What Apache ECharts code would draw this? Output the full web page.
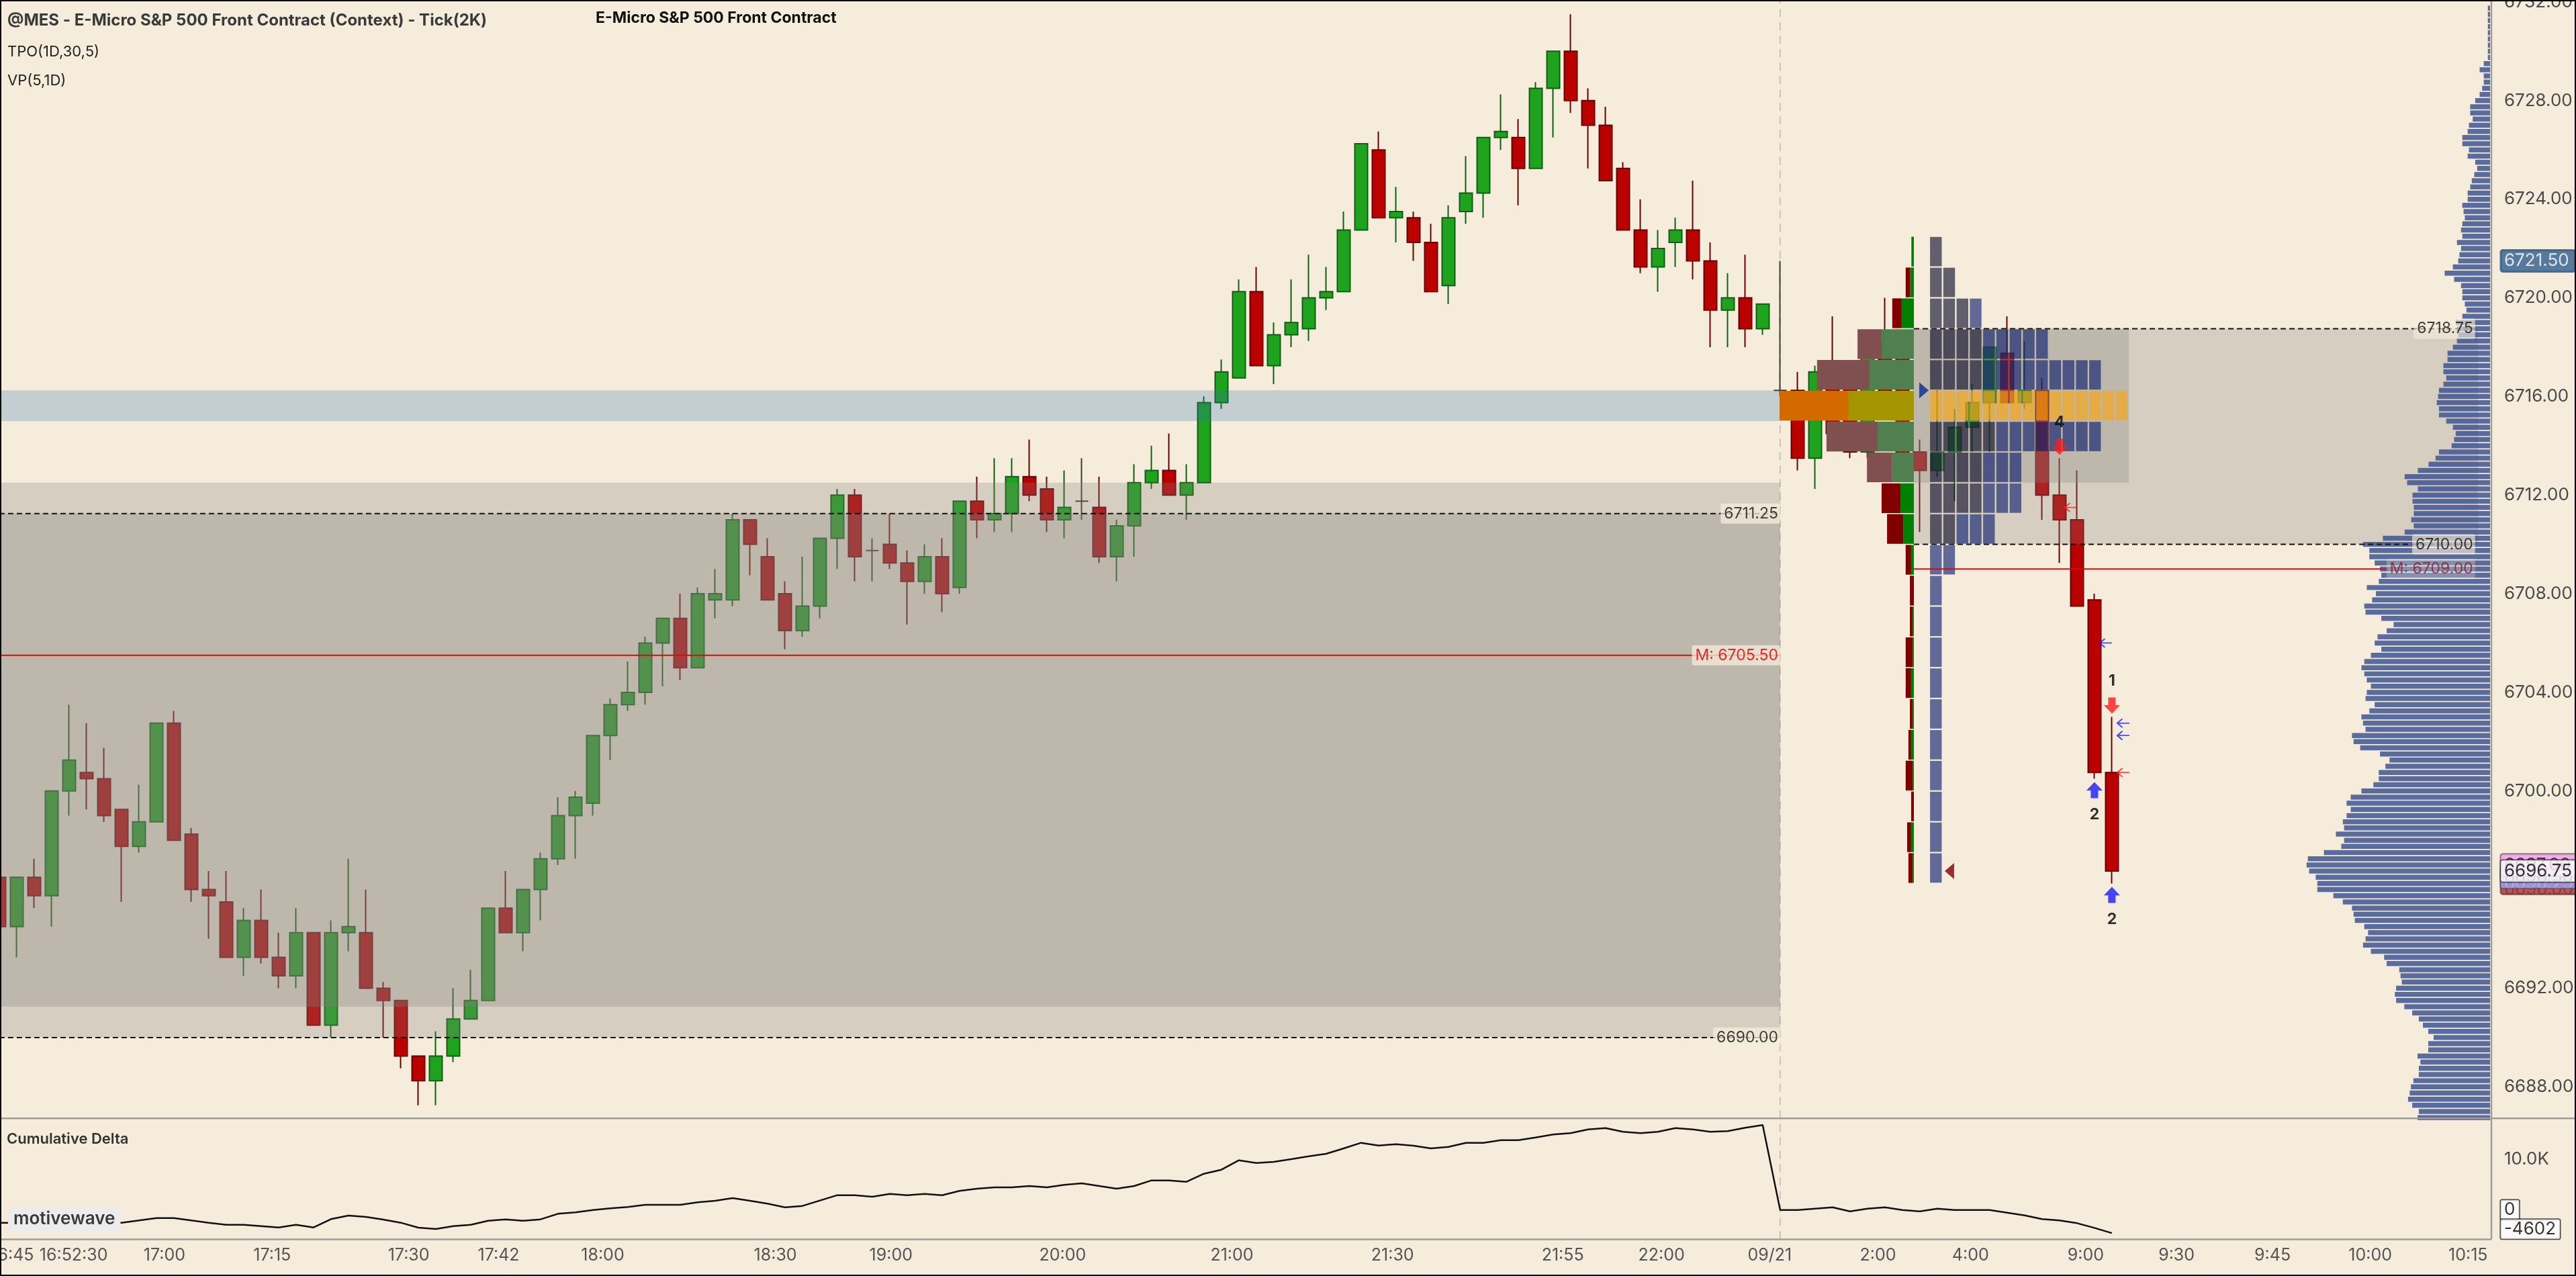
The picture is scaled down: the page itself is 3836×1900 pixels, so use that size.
<!DOCTYPE html>
<html>
<head>
<meta charset="utf-8">
<script src="https://cdn.jsdelivr.net/npm/echarts@6/dist/echarts.min.js"></script>
<style>
html,body{margin:0;padding:0;background:#f5ecdb;overflow:hidden;}
#chart{width:3836px;height:1900px;}
</style>
</head>
<body>
<div id="chart"></div>
<script>
// ---------------- DATA ----------------
// Tick(2K) bars, index 0..121
const open = [
6696.5,6694.5,6696.5,6695.75,6700.0,6700.75,6700.5,6699.25,6697.75,6698.75,
6702.75,6698.25,6696.0,6695.5,6693.25,6694.75,6693.25,6692.5,6694.25,6690.5,
6694.25,6694.25,6692.0,6691.5,6689.25,6688.25,6689.25,6690.75,6691.5,6695.25,
6694.25,6696.0,6697.25,6699.0,6699.5,6702.25,6703.5,6704.0,6706.0,6707.0,
6705.0,6707.75,6707.75,6711.0,6709.5,6708.0,6706.5,6707.5,6710.25,6712.0,
6709.75,6710.0,6709.25,6708.5,6709.5,6708.25,6711.75,6711.0,6711.25,6712.75,
6712.25,6711.0,6711.75,6711.5,6709.5,6710.75,6712.5,6713.0,6712.0,6712.5,
6715.75,6716.75,6720.25,6717.25,6718.5,6718.75,6720.0,6720.25,6722.75,6726.0,
6723.25,6723.25,6722.25,6720.5,6723.5,6724.25,6726.5,6726.5,6725.25,6728.5,
6730.0,6728.0,6727.0,6725.25,6722.75,6721.25,6722.25,6722.75,6721.5,6719.5,
6720.0,6718.75,6716.25,6716.25,6713.5,6717.25,6716.5,6713.75,6718.25,6718.0,
6713.75,6713.0,6713.75,6714.75,6715.75,6717.75,6715.75,6716.25,6712.0,6711.0,
6707.75,6700.75
];
const high = [
6696.75,6696.5,6697.25,6700.0,6703.5,6702.75,6701.75,6699.25,6700.25,6702.75,
6703.25,6698.5,6696.75,6696.75,6695.25,6696.0,6694.25,6695.25,6694.25,6694.75,
6697.25,6696.0,6692.25,6691.5,6689.25,6690.25,6692.0,6692.75,6695.25,6696.75,
6696.0,6697.5,6699.75,6700.0,6702.25,6703.75,6705.25,6706.25,6707.0,6708.0,
6708.25,6709.0,6711.25,6711.0,6710.25,6708.5,6709.5,6710.25,6712.25,6712.25,
6710.25,6711.25,6709.75,6710.0,6710.25,6711.75,6712.75,6713.5,6713.5,6714.25,
6712.75,6713.0,6713.5,6712.75,6711.0,6713.25,6714.0,6714.5,6713.25,6716.0,
6717.5,6720.75,6721.25,6719.0,6720.75,6721.75,6721.25,6723.5,6726.25,6726.75,
6724.5,6723.5,6723.0,6723.75,6725.75,6726.5,6728.25,6727.25,6728.75,6730.0,
6731.5,6728.5,6727.75,6725.5,6724.0,6722.75,6723.25,6724.75,6722.25,6721.0,
6721.75,6719.75,6721.5,6717.0,6717.25,6719.25,6717.0,6718.25,6720.0,6718.25,
6714.25,6716.25,6715.5,6716.5,6718.0,6719.25,6718.25,6716.75,6713.5,6713.0,
6708.0,6703.0
];
const low = [
6694.0,6693.25,6695.25,6694.5,6699.0,6699.25,6698.75,6695.5,6697.5,6698.75,
6698.0,6695.5,6694.0,6693.25,6692.5,6693.0,6692.0,6692.0,6690.5,6690.0,
6693.5,6692.0,6690.0,6688.75,6687.25,6687.25,6689.0,6690.75,6691.5,6694.25,
6693.5,6694.75,6697.0,6697.25,6699.0,6701.25,6703.25,6703.5,6704.25,6704.5,
6705.0,6707.0,6707.5,6708.75,6707.75,6705.75,6706.25,6707.0,6709.0,6708.5,
6708.5,6709.0,6706.75,6708.0,6707.25,6708.0,6710.25,6710.5,6710.5,6711.75,
6710.5,6710.25,6711.0,6709.25,6708.5,6709.5,6712.25,6712.0,6711.0,6712.5,
6715.5,6716.75,6717.25,6716.5,6718.0,6718.25,6719.5,6720.25,6722.75,6723.25,
6722.25,6721.5,6720.25,6719.75,6723.0,6723.25,6726.0,6723.75,6725.25,6726.5,
6727.5,6725.25,6724.75,6722.75,6721.0,6720.25,6721.25,6720.75,6718.0,6718.0,
6718.0,6718.5,6716.0,6713.0,6712.25,6714.0,6713.5,6713.5,6715.5,6713.0,
6710.5,6712.75,6711.75,6713.75,6713.75,6715.75,6715.5,6711.0,6709.25,6707.5,
6700.5,6696.25
];
const close = [
6694.5,6696.5,6695.75,6700.0,6701.25,6700.5,6699.0,6697.75,6698.75,6702.75,
6698.0,6696.0,6695.75,6693.25,6694.75,6693.25,6692.5,6694.25,6690.5,6694.25,
6694.5,6692.0,6691.5,6689.25,6688.25,6689.25,6690.75,6691.5,6695.25,6694.25,
6696.0,6697.25,6699.0,6699.75,6702.25,6703.5,6704.0,6706.0,6707.0,6705.0,
6708.0,6708.0,6711.0,6710.0,6707.75,6706.5,6707.5,6710.25,6712.0,6709.5,
6709.75,6709.25,6708.5,6709.5,6708.0,6711.75,6711.0,6711.25,6712.75,6712.0,
6711.0,6711.5,6711.75,6709.5,6710.75,6712.5,6713.0,6712.0,6712.5,6715.75,
6717.0,6720.25,6717.25,6718.5,6719.0,6720.0,6720.25,6722.75,6726.25,6723.25,
6723.5,6722.25,6720.25,6723.25,6724.25,6726.5,6726.75,6725.25,6728.5,6730.0,
6728.0,6727.0,6724.75,6722.75,6721.25,6722.0,6722.75,6721.5,6719.5,6720.0,
6718.75,6719.75,6716.25,6713.5,6717.0,6714.5,6713.75,6718.0,6716.0,6713.5,
6713.0,6713.75,6714.75,6715.75,6718.0,6715.75,6716.25,6712.0,6711.0,6707.5,
6700.75,6696.75
];
// Cumulative delta per bar
const cumDelta = [
-2552,-2600,-2500,-2350,-2450,-2550,-2464,-2552,-2110,-1625,
-1625,-2110,-2552,-2949,-2949,-3214,-3479,-2949,-3479,-1845,
-1139,-1404,-1934,-2552,-3523,-3788,-3214,-2949,-2155,-1890,
-2155,-1890,-786,-521,-35,274,539,980,980,980,
1466,1775,2305,1775,1201,494,759,1819,2878,2878,
2570,3143,2878,3143,2878,3718,4159,4424,4424,4689,
4424,4910,5219,4689,4159,4689,5792,5792,5527,7117,
7911,9766,9236,9457,9987,10560,11046,12106,13209,12680,
12945,12636,12106,12415,13209,13209,13739,13739,14269,14844,
15109,15859,16123,15374,15109,15374,16123,15859,15374,15506,
16168,16698,-35,-35,230,494,-300,230,494,-35,
-300,230,-35,-35,-35,-565,-1095,-1845,-2110,-2640,
-3567,-4602
];
// Time axis labels and the bar position they sit at
const timeLabels = ['16:45','16:52:30','17:00','17:15','17:30','17:42','18:00','18:30','19:00','20:00','21:00','21:30','21:55','22:00','09/21','2:00','4:00','9:00','9:30','9:45','10:00','10:15'];
const timeLabelBars = [0.75,4.26,9.46,15.63,23.45,28.6,34.56,44.45,51.07,60.9,70.6,79.8,89.55,95.2,101.4,107.6,112.9,119.5,124.7,130.2,135.8,141.4];
const priceTicks = [6688,6692,6696,6700,6704,6708,6712,6716,6720,6724,6728,6732];
const deltaTicks = [10000];

// VP(5,1D) volume per 0.25 level, from top price downwards
const vpTopPrice = 6731.75;
const vpVolume = [
7,7,7,7,7,7,7,7,7,
20,33,20,20,25,33,47,63,63,55,
67,71,88,88,67,71,47,41,50,58,
63,71,71,88,84,80,88,92,88,105,
92,97,101,118,144,114,92,88,88,80,
75,88,109,105,101,105,118,135,135,148,
148,139,148,162,165,169,162,162,139,118,
109,114,122,162,173,195,229,271,263,229,
246,246,242,242,250,242,271,340,403,383,
383,366,349,345,353,391,362,374,399,395,
345,306,328,357,366,345,378,399,408,399,
391,378,391,395,366,383,408,403,395,438,
433,412,349,319,332,353,353,370,408,442,
455,442,455,467,463,489,463,472,527,578,
582,574,553,548,548,497,467,438,433,429,
399,387,395,403,378,336,328,288,284,280,
298,302,298,272,247,226,213,196,179,196,
196,230,221,226,226,243,251,255,260,247,
226,230
];

// Current session profile rows (1.25 pt each), row low prices
const profileRowLow = [6721.25,6720,6718.75,6717.5,6716.25,6715,6713.75,6712.5,6711.25,6710,6708.75,6707.5,6706.25,6705,6703.75,6702.5,6701.25,6700,6698.75,6697.5,6696.25];
const sessionSellVol = [0,18,38,97,211,276,206,102,76,65,22,16,11,28,22,11,11,28,11,16,17];
const sessionBuyVol  = [10,15,49,130,179,265,146,87,54,43,11,0,5,5,11,5,11,5,0,11,5];
const tpoCount = [1,2,4,9,13,15,13,7,7,5,2,1,1,1,1,1,1,1,1,1,1];
const tpoEarly = [1,2,3,4,4,4,5,4,4,2,0,0,0,0,0,0,0,0,0,0,0];
const pocRowLow = 6715;
const tpoOpenPrice = 6716.25;
const tpoLastPrice = 6696.75;

// Value areas / reference levels
const priorOuterArea = [6690.00, 6712.50];
const priorInnerArea = [6691.25, 6711.25];
const priorLevels = [6711.25, 6690.00];
const priorMid = 6705.50;
const pocBand = [6715.00, 6716.25];
const todayOuterArea = [6710.00, 6718.75];
const todayInnerArea = [6712.50, 6718.75];
const todayLevels = [6718.75, 6710.00];
const todayMid = 6709.00;

// Signals
const sellSignalBars = [118, 121];
const sellSignalText = ['4', '1'];
const buySignalBars = [120, 121];
const buySignalText = ['2', '2'];
const redTickMarks = [[118, 6711.5], [121, 6700.75]];
const blueTickMarks = [[120, 6706.0], [121, 6702.75], [121, 6702.25]];

// Axis value flags
const lastPrice = 6696.75;
const sessionHighFlag = 6721.50;
const stackedFlags = [6696.25, 6696.50, 6697.00];
const lastDelta = -4602;

// ---------------- LAYOUT ----------------
const FONT = 'Inter, Roboto, "DejaVu Sans", sans-serif';
const BG = '#f5ecdb';
const NCAT = 143;
const PLOT_LEFT = -14.1, PLOT_W = 3718;
const PRICE_TOP = 0, PRICE_H = 1665.3;
const DELTA_TOP = 1665.3, DELTA_H = 180.3;
const PMIN = 6686.72, PMAX = 6732.08;
const DMIN = -5854, DMAX = 18026;
const SESSION_BREAK = 102;
const TODAY_X0 = 109.66, TODAY_X1 = 141.98, TODAY_INNER_X1 = 121.97, LABEL_X = 141.8;
const ROW = 1.25;

const cats = Array.from({length: NCAT}, (_, i) => String(i));
const ohlc = open.map((o, i) => [o, close[i], low[i], high[i]]);

const areaDark = 'rgba(134,130,126,0.31)';
const areaLight = 'rgba(134,130,126,0.27)';
const zones = [
  {x0: -0.5, x1: SESSION_BREAK, r: priorOuterArea, fill: areaLight},
  {x0: -0.5, x1: SESSION_BREAK, r: priorInnerArea, fill: areaDark},
  {x0: -0.5, x1: SESSION_BREAK, r: pocBand, fill: 'rgba(53,112,174,0.25)'},
  {x0: TODAY_X0, x1: TODAY_X1, r: todayOuterArea, fill: areaLight},
  {x0: TODAY_X0, x1: TODAY_INNER_X1, r: todayInnerArea, fill: areaDark}
];

const levelLines = [];
priorLevels.forEach(p => levelLines.push({x0: -0.5, x1: SESSION_BREAK, p, kind: 'dash'}));
levelLines.push({x0: -0.5, x1: SESSION_BREAK, p: priorMid, kind: 'mid'});
todayLevels.forEach(p => levelLines.push({x0: TODAY_X0, x1: LABEL_X, p, kind: 'dash'}));
levelLines.push({x0: TODAY_X0, x1: LABEL_X - 5, p: todayMid, kind: 'mid'});

const levelLabels = [];
priorLevels.forEach(p => levelLabels.push({value: [SESSION_BREAK, p], label: {formatter: p.toFixed(2), color: '#111', backgroundColor: 'rgba(245,236,219,0.95)'}}));
levelLabels.push({value: [SESSION_BREAK, priorMid], label: {formatter: 'M: ' + priorMid.toFixed(2), color: '#d40000', backgroundColor: 'rgba(245,236,219,0.95)'}});
todayLevels.forEach(p => levelLabels.push({value: [LABEL_X, p], label: {formatter: p.toFixed(2), color: '#111', backgroundColor: 'rgba(245,236,219,0.8)'}}));
levelLabels.push({value: [LABEL_X, todayMid], label: {formatter: 'M: ' + todayMid.toFixed(2), color: '#8c1c2c', backgroundColor: 'rgba(245,236,219,0.35)'}});

const vpItems = vpVolume.map((v, i) => [v, vpTopPrice - i * 0.25]);

const sessionVpItems = profileRowLow.map((lo, r) => {
  const hi = lo + ROW;
  let kind = 0;
  if (lo === pocRowLow) kind = 2;
  else if (lo >= todayInnerArea[0] && hi <= todayInnerArea[1]) kind = 1;
  return [sessionBuyVol[r], sessionSellVol[r], lo, hi, kind];
});

const tpoItems = [];
profileRowLow.forEach((lo, r) => {
  for (let j = 0; j < tpoCount[r]; j++) {
    const kind = lo === pocRowLow ? 2 : (j < tpoEarly[r] ? 0 : 1);
    tpoItems.push([j, lo, lo + ROW, kind]);
  }
});

const downArrow = 'path://M27,0 L73,0 L73,47 L100,47 L50,100 L0,47 L27,47 Z';
const upArrow = 'path://M50,0 L100,53 L73,53 L73,100 L27,100 L27,53 L0,53 Z';
const thinLeftArrow = 'path://M0,50 L100,50 M42,4 L0,50 L42,96';

function nearestLabel(v) {
  let best = -1, bd = 1e9;
  timeLabelBars.forEach((b, i) => { const d = Math.abs(b - v); if (d < bd) { bd = d; best = i; } });
  return bd < 0.01 ? timeLabels[best] : '';
}

const priceY = (grid) => ({type: 'value', gridIndex: grid, min: PMIN, max: PMAX, show: false});

const flagLabel = {show: true, position: 'right', distance: 16, fontSize: 26, fontFamily: FONT, padding: [3, 9, 3, 5], borderRadius: 3, borderWidth: 1.5, borderColor: '#555'};

const option = {
  backgroundColor: BG,
  animation: false,
  textStyle: {fontFamily: FONT},
  title: [
    {text: '@MES - E-Micro S&P 500 Front Contract (Context) - Tick(2K)', left: 11, top: 19, padding: 0,
      textStyle: {fontFamily: FONT, fontSize: 24, fontWeight: 'bold', color: '#3a3a3a'}},
    {text: 'E-Micro S&P 500 Front Contract', left: 887, top: 16, padding: 0,
      textStyle: {fontFamily: FONT, fontSize: 23, fontWeight: 'bold', color: '#111'}},
    {text: 'TPO(1D,30,5)', left: 11, top: 66, padding: 0,
      textStyle: {fontFamily: FONT, fontSize: 22, fontWeight: 'normal', color: '#222'}},
    {text: 'VP(5,1D)', left: 11, top: 109, padding: 0,
      textStyle: {fontFamily: FONT, fontSize: 22, fontWeight: 'normal', color: '#222'}},
    {text: 'Cumulative Delta', left: 10, top: 1685, padding: 0,
      textStyle: {fontFamily: FONT, fontSize: 22, fontWeight: 600, color: '#333'}},
    {text: 'motivewave', left: 12, top: 1797, padding: [5, 8, 5, 8], backgroundColor: '#ececec', borderRadius: 3, z: 20,
      textStyle: {fontFamily: FONT, fontSize: 26, fontWeight: 600, color: '#3a3a3a'}}
  ],
  grid: [
    {left: PLOT_LEFT, top: PRICE_TOP, width: PLOT_W, height: PRICE_H, outerBoundsMode: 'none', containLabel: false},
    {left: PLOT_LEFT, top: DELTA_TOP, width: PLOT_W, height: DELTA_H, outerBoundsMode: 'none', containLabel: false},
    {left: 3000, top: PRICE_TOP, width: 708, height: PRICE_H, outerBoundsMode: 'none', containLabel: false},
    {left: 2650, top: PRICE_TOP, width: 200, height: PRICE_H, outerBoundsMode: 'none', containLabel: false},
    {left: 2854.35, top: PRICE_TOP, width: 809.75, height: PRICE_H, outerBoundsMode: 'none', containLabel: false}
  ],
  xAxis: [
    {type: 'category', gridIndex: 0, data: cats, boundaryGap: true, show: false},
    {type: 'value', gridIndex: 0, min: -0.5, max: NCAT - 0.5, show: false},
    {type: 'value', gridIndex: 1, min: -0.5, max: NCAT - 0.5, position: 'bottom',
      axisLine: {show: false}, axisTick: {show: false}, splitLine: {show: false},
      axisLabel: {customValues: timeLabelBars, formatter: v => nearestLabel(v), color: '#555', fontSize: 25, margin: 11, fontFamily: FONT, hideOverlap: false, showMinLabel: true, showMaxLabel: true}},
    {type: 'value', gridIndex: 2, min: 0, max: 1508.3, inverse: true, show: false},
    {type: 'value', gridIndex: 3, min: 0, max: 541, inverse: true, show: false},
    {type: 'value', gridIndex: 4, min: -1, max: 40, show: false}
  ],
  yAxis: [
    {type: 'value', gridIndex: 0, min: PMIN, max: PMAX, position: 'right', offset: 6,
      axisLine: {show: false}, axisTick: {show: false}, splitLine: {show: false},
      axisLabel: {customValues: priceTicks, formatter: v => Number(v).toFixed(2), color: '#4a4a4a', fontSize: 26, margin: 19, fontFamily: FONT, showMinLabel: true, showMaxLabel: true}},
    {type: 'value', gridIndex: 1, min: DMIN, max: DMAX, position: 'right', offset: 6,
      axisLine: {show: false}, axisTick: {show: false}, splitLine: {show: false},
      axisLabel: {customValues: deltaTicks, formatter: v => (v / 1000).toFixed(1) + 'K', color: '#4a4a4a', fontSize: 26, margin: 19, fontFamily: FONT}},
    priceY(2), priceY(3), priceY(4)
  ],
  series: [
    // session break (dashed vertical)
    {type: 'line', xAxisIndex: 1, yAxisIndex: 0, z: 1, symbol: 'none', silent: true,
      data: [[SESSION_BREAK, PMIN], [SESSION_BREAK, PMAX]],
      lineStyle: {color: '#cbc4b6', width: 2, type: [12, 8]}},
    {type: 'line', xAxisIndex: 2, yAxisIndex: 1, z: 1, symbol: 'none', silent: true,
      data: [[SESSION_BREAK, DMIN], [SESSION_BREAK, DMAX]],
      lineStyle: {color: '#cbc4b6', width: 2, type: [12, 8]}},
    // candles
    {type: 'candlestick', name: 'MES', xAxisIndex: 0, yAxisIndex: 0, z: 2, barWidth: 19,
      data: ohlc,
      itemStyle: {color: '#1fa31f', color0: '#bb0000', borderColor: '#0f5f13', borderColor0: '#6a0000', borderWidth: 2, borderColorDoji: '#3c3c3c'}},
    // shaded value areas
    {type: 'custom', xAxisIndex: 1, yAxisIndex: 0, z: 3, silent: true,
      data: zones.map((zn, i) => [zn.x0, zn.x1, zn.r[0], zn.r[1], i]),
      renderItem: (params, api) => {
        const a = api.coord([api.value(0), api.value(3)]);
        const b = api.coord([api.value(1), api.value(2)]);
        return {type: 'rect', shape: {x: a[0], y: a[1], width: b[0] - a[0], height: b[1] - a[1]},
          style: {fill: zones[api.value(4)].fill}};
      }},
    // VP(5,1D) right profile
    {type: 'custom', xAxisIndex: 3, yAxisIndex: 2, z: 4, silent: true,
      data: vpItems,
      renderItem: (params, api) => {
        const a = api.coord([api.value(0), api.value(1) + 0.125]);
        const b = api.coord([0, api.value(1) - 0.125]);
        return {type: 'rect', shape: {x: a[0], y: a[1] + 0.85, width: b[0] - a[0], height: b[1] - a[1] - 1.7},
          style: {fill: 'rgba(62,85,147,0.85)'}};
      }},
    // session volume profile (sell/buy split)
    {type: 'custom', xAxisIndex: 4, yAxisIndex: 3, z: 4, silent: true,
      data: sessionVpItems,
      renderItem: (params, api) => {
        const buy = api.value(0), sell = api.value(1), lo = api.value(2), hi = api.value(3), kind = api.value(4);
        const pal = [['#008000', '#800000'], ['#508050', '#805050'], ['#a39600', '#d26a00']][kind];
        const top = api.coord([0, hi])[1] + 0.8, bot = api.coord([0, lo])[1] - 0.8;
        const x0 = api.coord([0, lo])[0], xb = api.coord([buy, lo])[0], xs = api.coord([buy + sell, lo])[0];
        return {type: 'group', children: [
          {type: 'rect', shape: {x: xb, y: top, width: x0 - xb, height: bot - top}, style: {fill: pal[0]}},
          {type: 'rect', shape: {x: xs, y: top, width: xb - xs, height: bot - top}, style: {fill: pal[1]}}
        ]};
      }},
    // TPO squares
    {type: 'custom', xAxisIndex: 5, yAxisIndex: 4, z: 5, silent: true,
      data: tpoItems,
      renderItem: (params, api) => {
        const a = api.coord([api.value(0), api.value(2)]);
        const b = api.coord([api.value(0) + 0.88, api.value(1)]);
        const fills = ['rgba(0,2,33,0.6)', 'rgba(0,19,103,0.6)', 'rgba(255,165,0,0.6)'];
        return {type: 'rect', shape: {x: a[0], y: a[1] + 1.1, width: b[0] - a[0], height: b[1] - a[1] - 2.2},
          style: {fill: fills[api.value(3)]}};
      }},
    // TPO open / last markers
    {type: 'scatter', xAxisIndex: 5, yAxisIndex: 4, z: 6, silent: true,
      symbol: 'path://M0,0 L100,50 L0,100 Z', symbolSize: [14, 24],
      itemStyle: {color: '#0a2a8a'}, data: [[-0.46, tpoOpenPrice]]},
    {type: 'scatter', xAxisIndex: 5, yAxisIndex: 4, z: 6, silent: true,
      symbol: 'path://M100,0 L0,50 L100,100 Z', symbolSize: [14, 24],
      itemStyle: {color: '#7a0000'}, data: [[1.46, tpoLastPrice]]},
    // level lines
    {type: 'custom', xAxisIndex: 1, yAxisIndex: 0, z: 6, silent: true,
      data: levelLines.map((l, i) => [l.x0, l.x1, l.p, i]),
      renderItem: (params, api) => {
        const l = levelLines[api.value(3)];
        const a = api.coord([api.value(0), api.value(2)]);
        const b = api.coord([api.value(1), api.value(2)]);
        const dash = l.kind === 'dash';
        return {type: 'line', shape: {x1: a[0], y1: a[1], x2: b[0], y2: b[1]},
          style: {stroke: dash ? '#111' : '#cc1111', lineWidth: 2, lineDash: dash ? [8, 5] : null}};
      }},
    // level labels
    {type: 'scatter', xAxisIndex: 1, yAxisIndex: 0, z: 7, silent: true, symbolSize: 0,
      data: levelLabels,
      label: {show: true, position: 'left', distance: 0, fontSize: 23, fontFamily: FONT, padding: [4, 3, 3, 5], borderRadius: 3}},
    // sell signals
    {type: 'scatter', xAxisIndex: 1, yAxisIndex: 0, z: 8, silent: true,
      symbol: downArrow, symbolSize: [24, 24], symbolOffset: [0, -17],
      itemStyle: {color: '#ff1a1a'},
      data: sellSignalBars.map((b, i) => ({value: [b, high[b]], label: {formatter: sellSignalText[i]}})),
      label: {show: true, position: 'top', distance: 13, fontSize: 23, fontWeight: 'bold', color: '#000', fontFamily: FONT}},
    // buy signals
    {type: 'scatter', xAxisIndex: 1, yAxisIndex: 0, z: 8, silent: true,
      symbol: upArrow, symbolSize: [24, 24], symbolOffset: [0, 17],
      itemStyle: {color: '#1a1aff'},
      data: buySignalBars.map((b, i) => ({value: [b, low[b]], label: {formatter: buySignalText[i]}})),
      label: {show: true, position: 'bottom', distance: 13, fontSize: 23, fontWeight: 'bold', color: '#000', fontFamily: FONT}},
    // small tick arrows
    {type: 'scatter', xAxisIndex: 1, yAxisIndex: 0, z: 8, silent: true,
      symbol: thinLeftArrow, symbolSize: [18, 13], symbolOffset: [17, 0],
      itemStyle: {color: 'none', borderColor: '#ff2020', borderWidth: 2}, data: redTickMarks},
    {type: 'scatter', xAxisIndex: 1, yAxisIndex: 0, z: 8, silent: true,
      symbol: thinLeftArrow, symbolSize: [18, 13], symbolOffset: [17, 0],
      itemStyle: {color: 'none', borderColor: '#2020ff', borderWidth: 2}, data: blueTickMarks},
    // cumulative delta
    {type: 'line', name: 'Cumulative Delta', xAxisIndex: 2, yAxisIndex: 1, z: 3, symbol: 'none',
      data: cumDelta.map((v, i) => [i, v]),
      lineStyle: {color: '#111', width: 2.5}},
    // delta value flags
    {type: 'scatter', xAxisIndex: 2, yAxisIndex: 1, z: 9, silent: true, symbolSize: 0,
      data: [
        {value: [NCAT - 0.5, 0], label: {formatter: '0'}},
        {value: [NCAT - 0.5, lastDelta], label: {formatter: String(lastDelta), offset: [0, -6]}}
      ],
      label: {show: true, position: 'right', distance: 20, fontSize: 26, fontFamily: FONT, color: '#000',
        backgroundColor: '#ffffff', borderColor: '#222', borderWidth: 1.5, padding: [2, 6, 1, 5], borderRadius: 2}},
    // price axis flags (stacked behind)
    {type: 'scatter', xAxisIndex: 3, yAxisIndex: 2, z: 9, silent: true, symbolSize: 0,
      data: [
        {value: [0, stackedFlags[0]], label: {formatter: stackedFlags[0].toFixed(2), backgroundColor: '#a83232', color: '#ffffff'}},
        {value: [0, stackedFlags[1]], label: {formatter: stackedFlags[1].toFixed(2), backgroundColor: '#9d9df5', color: '#111'}},
        {value: [0, stackedFlags[2]], label: {formatter: stackedFlags[2].toFixed(2), backgroundColor: '#f49ce8', color: '#111'}}
      ],
      label: flagLabel},
    {type: 'scatter', xAxisIndex: 3, yAxisIndex: 2, z: 10, silent: true, symbolSize: 0,
      data: [
        {value: [0, sessionHighFlag], label: {formatter: sessionHighFlag.toFixed(2), backgroundColor: '#2f5d8c', color: '#ffffff', borderColor: '#2f5d8c'}},
        {value: [0, lastPrice], label: {formatter: lastPrice.toFixed(2), backgroundColor: '#ffffff', color: '#000', borderColor: '#333'}}
      ],
      label: flagLabel}
  ],
  graphic: [
    {type: 'line', silent: true, z: 50, shape: {x1: 0, y1: DELTA_TOP, x2: 3836, y2: DELTA_TOP}, style: {stroke: '#a09d98', lineWidth: 2.5}},
    {type: 'line', silent: true, z: 50, shape: {x1: 0, y1: DELTA_TOP + DELTA_H, x2: 3710, y2: DELTA_TOP + DELTA_H}, style: {stroke: '#a09d98', lineWidth: 2.5}},
    {type: 'line', silent: true, z: 50, shape: {x1: 3710, y1: 0, x2: 3710, y2: DELTA_TOP + DELTA_H}, style: {stroke: '#a09d98', lineWidth: 2.5}},
    {type: 'rect', silent: true, z: 60, shape: {x: 1, y: 1, width: 3834, height: 1898}, style: {fill: 'none', stroke: '#000', lineWidth: 2}}
  ]
};

const chart = echarts.init(document.getElementById('chart'), null, {renderer: 'canvas', width: 3836, height: 1900});
chart.setOption(option);
</script>
</body>
</html>
